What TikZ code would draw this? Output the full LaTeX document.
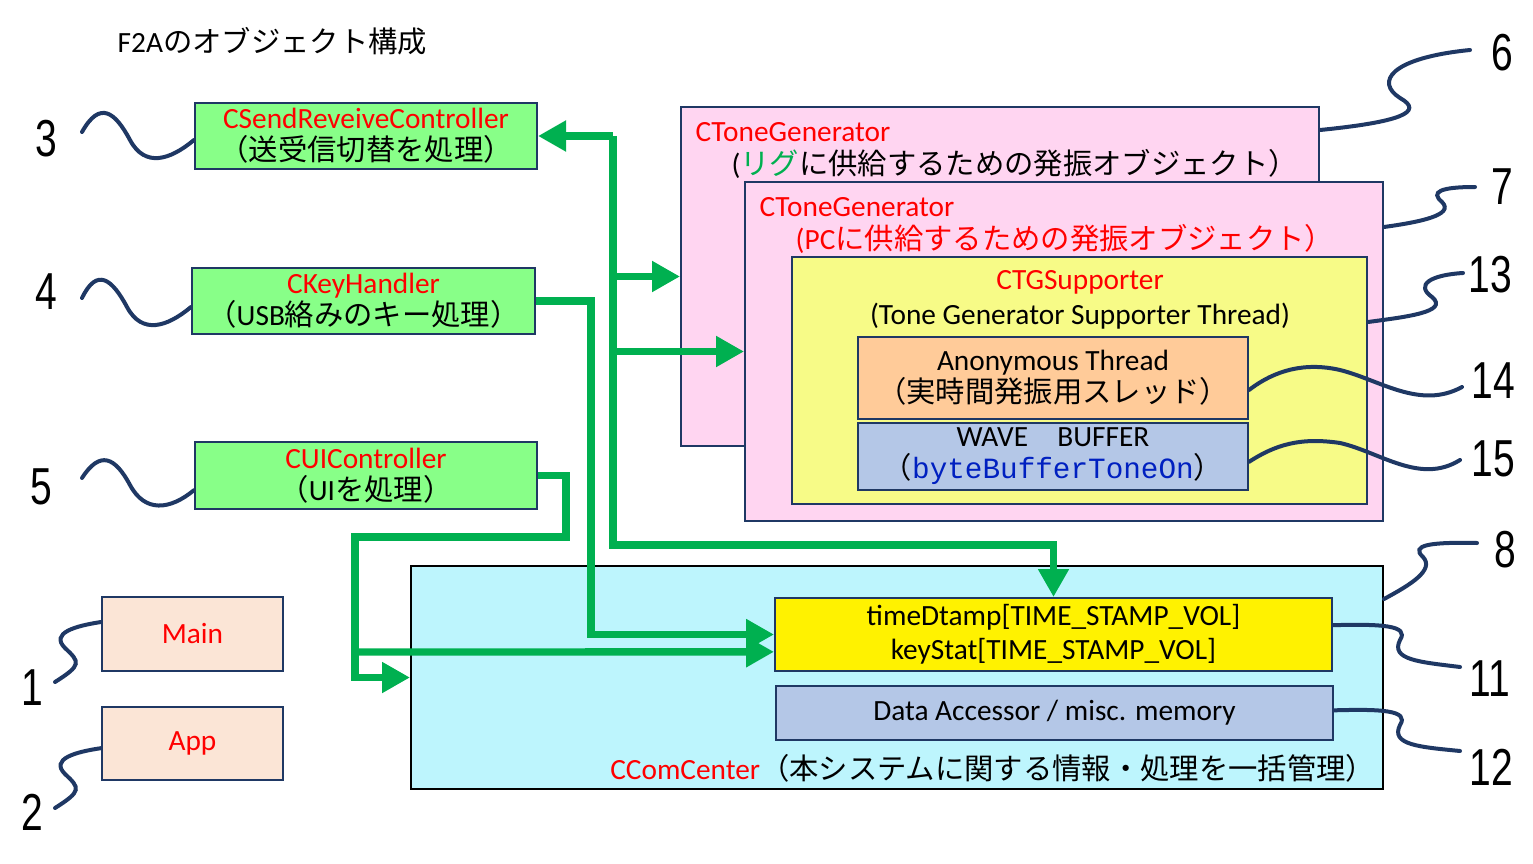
\documentclass[tikz,border=0pt]{standalone}
\usepackage{fontspec}
\setmainfont{Carlito}
\newfontfamily\jp{Noto Sans CJK JP}
\newfontfamily\numfont{Liberation Sans}
\newfontfamily\codefont{Liberation Mono}
\usepackage{xcolor}
\usetikzlibrary{arrows.meta}
\definecolor{navy}{RGB}{31,56,100}
\definecolor{flowgreen}{RGB}{0,176,80}
\definecolor{ctrlgreen}{RGB}{136,255,136}
\definecolor{tonepink}{RGB}{255,213,241}
\definecolor{tgsyellow}{RGB}{247,251,135}
\definecolor{threadorange}{RGB}{255,203,153}
\definecolor{bufblue}{RGB}{180,199,231}
\definecolor{comcyan}{RGB}{189,245,253}
\definecolor{apppeach}{RGB}{251,229,214}
\definecolor{codeblue}{RGB}{0,32,192}
\newcommand{\cnum}[1]{\scalebox{0.75}[1]{#1}}

\begin{document}
\begin{tikzpicture}[
  x=0.75pt, y=-0.75pt,
  font=\fontsize{22}{24}\selectfont,
  box/.style={draw=navy, line width=1.5pt, inner sep=0pt, align=center},
  boxsize/.style 2 args={minimum width=#1*0.75pt, minimum height=#2*0.75pt},
  ctrl/.style={box, fill=ctrlgreen},
  app/.style={box, fill=apppeach, text=red},
  tone/.style={box, fill=tonepink},
  flow/.style={draw=flowgreen, line width=5.5pt, -{Triangle[length=21pt,width=22pt]}},
  callout/.style={draw=navy, line width=3pt, line cap=round},
  num/.style={font=\numfont\fontsize{39}{40}\selectfont, inner sep=0pt},
]
\useasboundingbox (0,0) rectangle (1533,863);

\node[anchor=west] (title) at (113,41) {F2A{\jp のオブジェクト構成}};

% left column
\node[ctrl, boxsize={342}{66}] (send) at (366,136)
  {\textcolor{red}{CSendReveiveController}\\{\jp （送受信切替を処理）}};
\node[ctrl, boxsize={343}{66}] (key) at (363.5,301)
  {\textcolor{red}{CKeyHandler}\\{\jp （}USB{\jp 絡みのキー処理）}};
\node[ctrl, boxsize={342}{67}] (ui) at (366,475.5)
  {\textcolor{red}{CUIController}\\{\jp （}UI{\jp を処理）}};
\node[app, boxsize={181}{74}] (main) at (192.5,634) {Main};
\node[app, boxsize={181}{73}] (app) at (192.5,743.5) {App};

% tone generators
\node[tone, boxsize={638}{339}] (tone1) at (1000,276.5) {};
\node[anchor=west, text=red] (tone1name) at (691,132) {CToneGenerator};
\node[anchor=west] (tone1note) at (727,164)
  {({\jp\textcolor{flowgreen}{リグ}に供給するための発振オブジェクト）}};
\node[tone, boxsize={638}{339}] (tone2) at (1064,351.5) {};
\node[anchor=west, text=red] (tone2name) at (755,207) {CToneGenerator};
\node[anchor=west, text=red] (tone2note) at (791,239)
  {(PC{\jp に供給するための発振オブジェクト）}};
\node[box, fill=tgsyellow, boxsize={575}{247}] (tgs) at (1079.5,380.5) {};
\node[text=red] (tgsname) at (1080,282) {CTGSupporter};
\node (tgsnote) at (1080,316) {(Tone Generator Supporter Thread)};
\node[box, fill=threadorange, boxsize={390}{82}] (anon) at (1053,378)
  {Anonymous Thread\\{\jp （実時間発振用スレッド）}};
\node[box, fill=bufblue, boxsize={390}{67}] (wave) at (1053,456.5)
  {WAVE{\jp 　}BUFFER\\{\jp （}\textcolor{codeblue}{\codefont byteBufferToneOn}{\jp ）}};

% common center
\node[box, draw=black, fill=comcyan, boxsize={972}{223}] (ccom) at (897,677.5) {};
\node[anchor=east] (ccomname) at (1380,768)
  {\textcolor{red}{CComCenter}{\jp （本システムに関する情報・処理を一括管理）}};
\node[box, fill=yellow, boxsize={557}{73}, font=\fontsize{22}{25.5}\selectfont] (stamp) at (1053.5,634.5)
  {timeDtamp[TIME\_STAMP\_VOL]\\keyStat[TIME\_STAMP\_VOL]};
\node[box, fill=bufblue, boxsize={557}{54}] (acc) at (1054.5,713)
  {Data Accessor / misc. memory};

% green connectors
\coordinate (t1) at (613,136);
\coordinate (t2) at (613,545);
\draw[flow] (t1) -- (send.east);
\draw[flow] (t1) -- (t2) -| (stamp.north);
\draw[flow] (t1 |- tone1.west) -- (tone1.west);
\draw[flow] (t1 |- tone2.west) -- (tone2.west);
\coordinate (k1) at (591,301);
\draw[flow] (key.east) -- (k1) |- (stamp.west);
\coordinate (u1) at (566,475.5);
\coordinate (u2) at (566,537);
\coordinate (u3) at (355,537);
\draw[flow] (ui.east) -- (u1) -- (u2) -- (u3) |- (ccom.west);
\draw[flow] (u3 |- 0,652) -- ([yshift=-13pt]stamp.west);

% numbered callouts
\node[num] (n1) at (32,688) {\cnum{1}};
\node[num] (n2) at (32,812) {\cnum{2}};
\node[num] (n3) at (46,139) {\cnum{3}};
\node[num] (n4) at (46,292) {\cnum{4}};
\node[num] (n5) at (41,487) {\cnum{5}};
\node[num] (n6) at (1502,53) {\cnum{6}};
\node[num] (n7) at (1502,187) {\cnum{7}};
\node[num] (n8) at (1505,550) {\cnum{8}};
\node[num] (n11) at (1490,679) {\cnum{11}};
\node[num] (n12) at (1491,767) {\cnum{12}};
\node[num] (n13) at (1490,275) {\cnum{13}};
\node[num] (n14) at (1493,381) {\cnum{14}};
\node[num] (n15) at (1493,459) {\cnum{15}};

\draw[callout] ([yshift=9pt]main.west) .. controls (75,626) and (50,633) .. (65,648)
  .. controls (80,662) and (82,665) .. (55,682);
\draw[callout] ([yshift=-3.5pt]app.west) .. controls (75,752) and (50,759) .. (65,774)
  .. controls (80,788) and (82,791) .. (55,808);
\draw[callout] ([yshift=-3pt]send.west) .. controls (170,160) and (145,168) .. (130,140)
  .. controls (115,112) and (100,100) .. (82,132);
\draw[callout] ([yshift=-4.5pt]key.west) .. controls (167,327) and (142,335) .. (127,307)
  .. controls (112,279) and (97,267) .. (82,298);
\draw[callout] ([yshift=-11pt]ui.west) .. controls (170,510) and (145,513) .. (130,485)
  .. controls (115,457) and (100,450) .. (82,478);
\draw[callout] ([yshift=-18pt]tone1.north east) .. controls (1400,122) and (1425,112) .. (1400,98)
  .. controls (1375,82) and (1390,58) .. (1470,50);
\draw[callout] ([yshift=-34.5pt]tone2.north east) .. controls (1420,222) and (1455,215) .. (1442,202)
  .. controls (1430,192) and (1440,187) .. (1475,187);
\draw[callout] ([yshift=-49.5pt]tgs.north east) .. controls (1405,317) and (1450,312) .. (1432,297)
  .. controls (1415,285) and (1430,275) .. (1463,273);
\draw[callout] ([yshift=-9pt]anon.east) .. controls (1275,370) and (1305,362) .. (1340,370)
  .. controls (1380,380) and (1420,410) .. (1462,387);
\draw[callout] ([yshift=-4pt]wave.east) .. controls (1275,445) and (1300,437) .. (1340,443)
  .. controls (1380,452) and (1420,485) .. (1460,460);
\draw[callout] ([yshift=-25.5pt]ccom.north east) .. controls (1410,585) and (1435,570) .. (1423,557)
  .. controls (1410,545) and (1430,542) .. (1477,543);
\draw[callout] ([yshift=7pt]stamp.east) .. controls (1380,624) and (1410,625) .. (1400,640)
  .. controls (1390,660) and (1420,662) .. (1460,667);
\draw[callout] ([yshift=2pt]acc.east) .. controls (1380,709) and (1410,710) .. (1400,725)
  .. controls (1390,745) and (1420,747) .. (1460,751);
\end{tikzpicture}
\end{document}
